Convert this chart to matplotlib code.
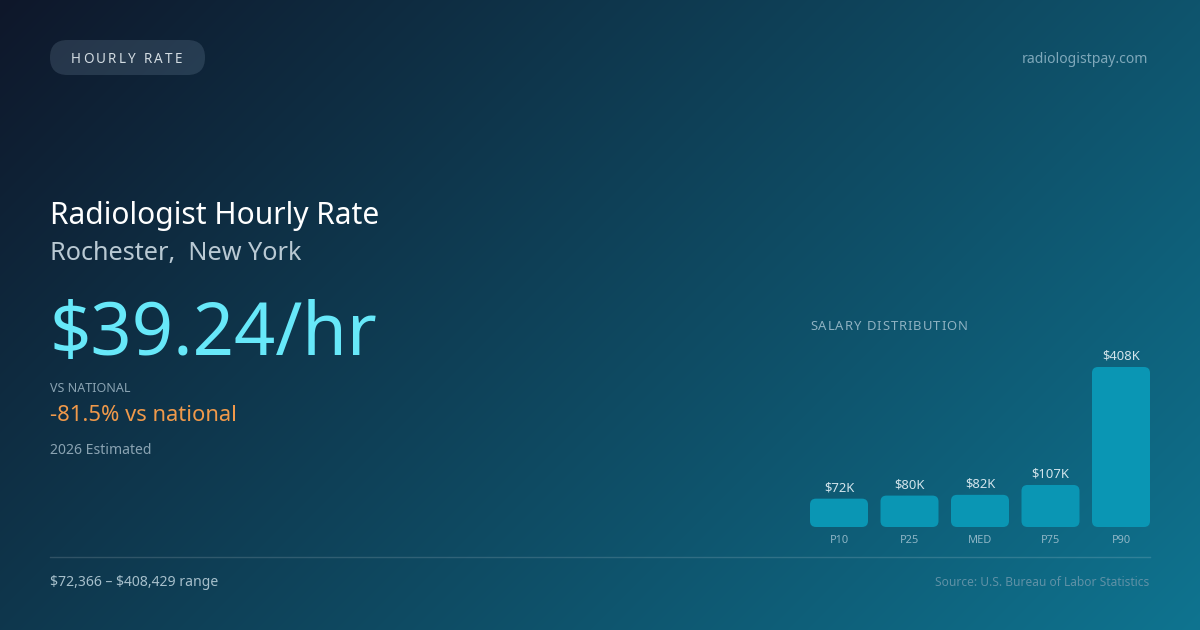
import numpy as np
import matplotlib
matplotlib.use("Agg")
import matplotlib.pyplot as plt
from matplotlib.patches import FancyBboxPatch
from matplotlib.font_manager import FontProperties, findfont, get_font
from matplotlib.lines import Line2D

# ---------------- data ----------------
categories = ["P10", "P25", "MED", "P75", "P90"]
salaries = [72366, 80200, 82100, 107300, 408429]
value_labels = ["$72K", "$80K", "$82K", "$107K", "$408K"]

badge_text = "HOURLY RATE"
site_text = "radiologistpay.com"
title_text = "Radiologist Hourly Rate"
location_text = "Rochester,  New York"
rate_text = "$39.24/hr"
vs_label = "VS NATIONAL"
vs_text = "-81.5% vs national"
est_text = "2026 Estimated"
chart_title = "SALARY DISTRIBUTION"
range_text = "$72,366 \u2013 $408,429 range"
source_text = "Source: U.S. Bureau of Labor Statistics"

FONT = "Noto Sans"
plt.rcParams["font.family"] = [FONT, "DejaVu Sans"]
plt.rcParams["text.parse_math"] = False

W, H, DPI = 1200, 630, 100
fig = plt.figure(figsize=(W / DPI, H / DPI), dpi=DPI)

def pt(px):
    return px * 72.0 / DPI

# ---------------- background ----------------
bg = fig.add_axes([0, 0, 1, 1])
bg.axis("off")
yy, xx = np.mgrid[0:H, 0:W]
t = ((xx - W / 2) + (yy - H / 2)) / (W + H) + 0.5
c0 = np.array([15, 23, 42]) / 255.0
c1 = np.array([14, 116, 144]) / 255.0
img = c0[None, None, :] * (1 - t[..., None]) + c1[None, None, :] * t[..., None]
bg.imshow(img, extent=(0, W, H, 0), aspect="auto", zorder=0)
bg.set_xlim(0, W)
bg.set_ylim(H, 0)

# letter-spaced text helper
def spaced_text(ax, x, y, s, size_px, spacing_px, color, weight="normal"):
    fp = FontProperties(family=FONT, weight=weight)
    font = get_font(findfont(fp))
    font.set_size(pt(size_px), DPI)
    cx = x
    for ch in s:
        ax.text(cx, y, ch, fontsize=pt(size_px), color=color, ha="left",
                va="baseline", family=FONT, weight=weight, zorder=5)
        try:
            from matplotlib.ft2font import LoadFlags
            g = font.load_char(ord(ch), flags=LoadFlags.NO_HINTING)
        except Exception:
            g = font.load_char(ord(ch))
        cx += g.linearHoriAdvance / 65536.0 + spacing_px
    return cx

# badge pill
pill = FancyBboxPatch((50, 40), 155, 35, boxstyle="round,pad=0,rounding_size=17.5",
                      facecolor=(0.75, 0.85, 0.95, 0.14), edgecolor="none", zorder=3)
bg.add_patch(pill)
spaced_text(bg, 70.5, 63, badge_text, 13.5, 2.3, "#d3dce2")

bg.text(1148, 63, site_text, fontsize=pt(14), color="#7fa8ba", ha="right",
        va="baseline", zorder=5)

bg.text(50, 224, title_text, fontsize=pt(30), color="#ffffff", ha="left",
        va="baseline", zorder=5)
bg.text(50, 260, location_text, fontsize=pt(25.2), color="#b9c9d3", ha="left",
        va="baseline", zorder=5)
bg.text(49, 355, rate_text, fontsize=pt(72.3), color="#67e8f9", ha="left",
        va="baseline", zorder=5)
bg.text(50, 392, vs_label, fontsize=pt(12.5), color="#8aa3b2", ha="left",
        va="baseline", zorder=5)
bg.text(50, 421, vs_text, fontsize=pt(22), color="#f0994a", ha="left",
        va="baseline", zorder=5)
bg.text(50, 454, est_text, fontsize=pt(14), color="#8aa3b2", ha="left",
        va="baseline", zorder=5)

bg.add_line(Line2D([50, 1150], [556.5, 556.5], color=(1, 1, 1, 0.14), lw=1, zorder=4))
bg.text(50, 586, range_text, fontsize=pt(14), color="#a6bfcb", ha="left",
        va="baseline", zorder=5)
bg.text(1149, 586, source_text, fontsize=pt(12), color="#5f91a6", ha="right",
        va="baseline", zorder=5)

spaced_text(bg, 810, 330.5, chart_title, 13, 1.0, "#8fb2c2")

# ---------------- bar chart ----------------
left, right, bottom_px, top_px = 810, 1150, 527, 367
ax = fig.add_axes([left / W, (H - bottom_px) / H, (right - left) / W,
                   (bottom_px - top_px) / H])
ax.patch.set_alpha(0)
ax.axis("off")
step_px = 70.5
bar_w = 58 / step_px
ax.set_xlim(-bar_w / 2, len(categories) - 1 + bar_w / 2)
ax.set_ylim(0, max(salaries))

x = np.arange(len(categories))
bars = ax.bar(x, salaries, width=bar_w, color="#0a96b4")

x_per_px = (ax.get_xlim()[1] - ax.get_xlim()[0]) / (right - left)
y_per_px = (ax.get_ylim()[1] - ax.get_ylim()[0]) / (bottom_px - top_px)
r_px = 6
for rect in bars:
    bx, by = rect.get_x(), rect.get_y()
    bw, bh = rect.get_width(), rect.get_height()
    rect.set_visible(False)
    rr = min(r_px, bh / y_per_px / 2)
    fb = FancyBboxPatch((bx, by), bw, bh,
                        boxstyle=f"round,pad=0,rounding_size={rr * x_per_px}",
                        mutation_aspect=y_per_px / x_per_px,
                        facecolor="#0a96b4", edgecolor="none", clip_on=False)
    ax.add_patch(fb)

for i, (v, lab) in enumerate(zip(salaries, value_labels)):
    ax.annotate(lab, xy=(i, v), xytext=(0, pt(7.5)), textcoords="offset points",
                ha="center", va="baseline", fontsize=pt(13), color="#d2e4eb",
                annotation_clip=False)
    ax.annotate(categories[i], xy=(i, 0), xytext=(0, -pt(15.7)),
                textcoords="offset points", ha="center", va="baseline",
                fontsize=pt(11), color="#8fb6c6", annotation_clip=False)

fig.savefig("out.png", dpi=DPI)
